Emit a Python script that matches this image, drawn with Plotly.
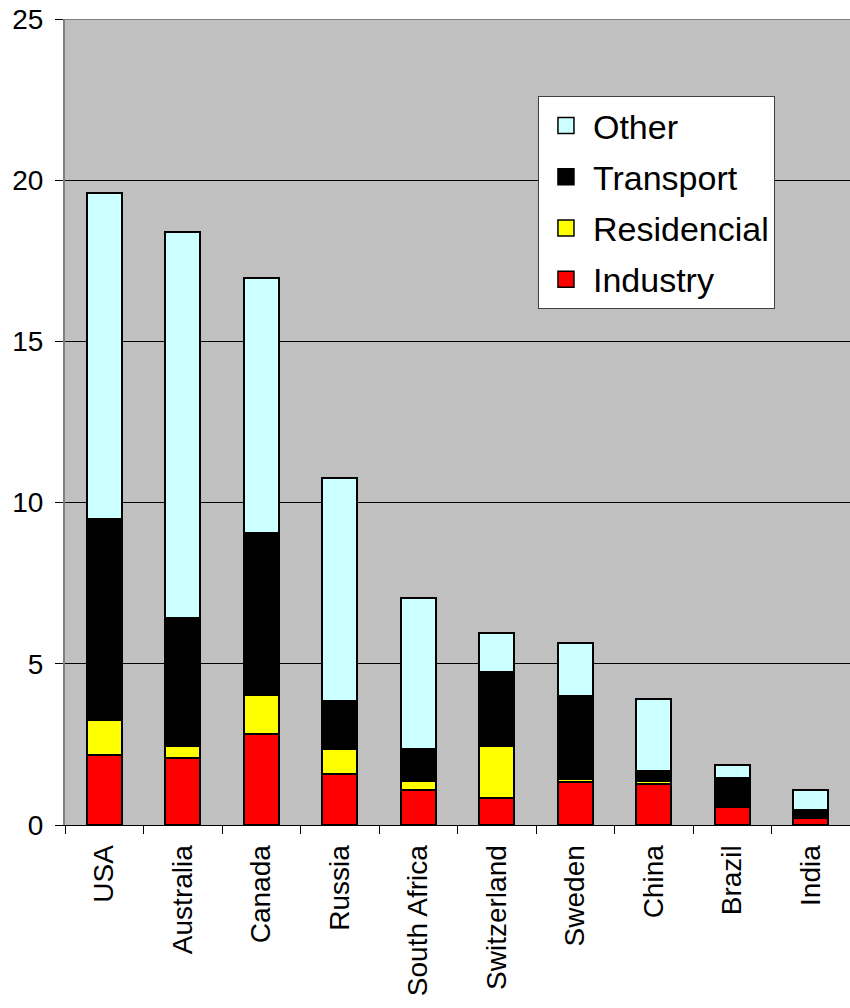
import plotly.graph_objects as go

countries = ["USA", "Australia", "Canada", "Russia", "South Africa",
             "Switzerland", "Sweden", "China", "Brazil", "India"]
industry = [2.16, 2.09, 2.83, 1.59, 1.09, 0.84, 1.34, 1.26, 0.55, 0.22]
residencial = [1.10, 0.36, 1.19, 0.78, 0.29, 1.61, 0.09, 0.11, 0.01, 0.07]
transport = [6.22, 3.97, 5.05, 1.47, 0.99, 2.31, 2.58, 0.32, 0.90, 0.16]
other = [10.13, 11.96, 7.90, 6.92, 4.66, 1.21, 1.63, 2.21, 0.39, 0.64]

series = [
    ("Industry", industry, "#FF0000"),
    ("Residencial", residencial, "#FFFF00"),
    ("Transport", transport, "#000000"),
    ("Other", other, "#CCFFFF"),
]

FONT = "Liberation Sans, Arial, sans-serif"

fig = go.Figure()
for name, vals, col in series:
    fig.add_trace(go.Bar(
        x=countries, y=vals, name=name, showlegend=False,
        marker=dict(color=col, line=dict(color="#000000", width=2)),
        width=0.44,
    ))
# legend entries (top to bottom: Other, Transport, Residencial, Industry)
for name, vals, col in reversed(series):
    fig.add_trace(go.Scatter(
        x=[None], y=[None], mode="markers", name=name,
        legendgroup=name,
        marker=dict(symbol="square", size=20, color=col,
                    line=dict(color="#000000", width=1.5)),
    ))

fig.update_layout(
    width=850, height=1008,
    barmode="stack",
    paper_bgcolor="#FFFFFF",
    plot_bgcolor="#C0C0C0",
    margin=dict(l=65, r=0, t=19, b=183),
    font=dict(family=FONT, size=28, color="#000000"),
    legend=dict(
        x=0.6025, y=0.9045, xanchor="left", yanchor="top",
        bgcolor="#FFFFFF", bordercolor="#404040", borderwidth=1,
        font=dict(family=FONT, size=34, color="#000000"),
        traceorder="grouped", tracegroupgap=4,
        itemwidth=44,
    ),
    xaxis=dict(
        type="category",
        tickangle=-90,
        tickson="boundaries",
        ticks="outside", ticklen=8, tickcolor="#000000", tickwidth=1,
        showline=True, linecolor="#000000", linewidth=1,
        tickfont=dict(family=FONT, size=28),
        ticklabelstandoff=8,
        showgrid=False,
    ),
    yaxis=dict(
        range=[0, 25],
        tickvals=[0, 5, 10, 15, 20, 25],
        ticks="outside", ticklen=8, tickcolor="#000000", tickwidth=1,
        showline=True, linecolor="#808080", linewidth=2,
        showgrid=True, gridcolor="#000000", gridwidth=1,
        zeroline=False,
        tickfont=dict(family=FONT, size=28),
        ticklabelstandoff=6,
        fixedrange=True,
    ),
)

fig.add_shape(type="line", xref="paper", yref="y", x0=0, x1=1, y0=25, y1=25,
              line=dict(color="#808080", width=2))

fig.write_html("out.html")
